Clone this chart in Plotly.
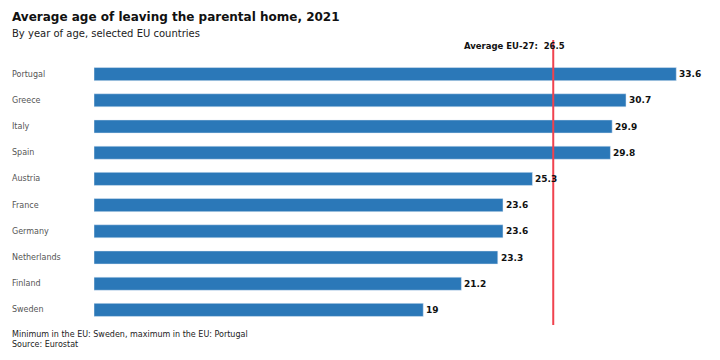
import plotly.graph_objects as go

countries = ["Portugal", "Greece", "Italy", "Spain", "Austria", "France",
             "Germany", "Netherlands", "Finland", "Sweden"]
ages = [33.6, 30.7, 29.9, 29.8, 25.3, 23.6, 23.6, 23.3, 21.2, 19]
eu_avg = 26.5

FONT = "DejaVu Sans"
OFF = 8  # page body margin offset

fig = go.Figure(go.Bar(
    x=ages, y=countries, orientation="h",
    marker=dict(color="#2b78b8"),
    width=0.5,
    hoverinfo="x+y",
))

W, H = 720, 360
L, R, T, B = 94 - OFF, 28, 61 - OFF, 37 + OFF
pw = W - L - R
ph = H - T - B

def px_x(p):
    return (p - OFF - L) / pw

def px_y(p):
    return (H - B - (p - OFF)) / ph

annotations = []
for c in countries:
    annotations.append(dict(
        x=px_x(10), xref="paper", y=c, yref="y", text=c, showarrow=False,
        xanchor="left", yanchor="middle",
        font=dict(family=FONT, size=8, color="#555")))

for c, v in zip(countries, ages):
    annotations.append(dict(
        x=v, xref="x", y=c, yref="y", text=f"<b>{v:g}</b>", showarrow=False,
        xanchor="left", yanchor="middle", xshift=1,
        font=dict(family=FONT, size=9, color="#111")))

annotations.append(dict(
    x=eu_avg, xref="x", y=px_y(46), yref="paper",
    text="<b>Average EU-27:  26.5</b>", showarrow=False,
    xanchor="right", xshift=14, yanchor="middle",
    font=dict(family=FONT, size=8.5, color="#111")))

annotations += [
    dict(x=px_x(10), xref="paper", y=px_y(17), yref="paper",
         text="<b>Average age of leaving the parental home, 2021</b>",
         showarrow=False, xanchor="left", yanchor="middle",
         font=dict(family=FONT, size=12, color="#111")),
    dict(x=px_x(10), xref="paper", y=px_y(33), yref="paper",
         text="By year of age, selected EU countries",
         showarrow=False, xanchor="left", yanchor="middle",
         font=dict(family=FONT, size=10, color="#222")),
    dict(x=px_x(10), xref="paper", y=px_y(334), yref="paper",
         text="Minimum in the EU: Sweden, maximum in the EU: Portugal",
         showarrow=False, xanchor="left", yanchor="middle",
         font=dict(family=FONT, size=8, color="#222")),
    dict(x=px_x(10), xref="paper", y=px_y(344), yref="paper",
         text="Source: Eurostat",
         showarrow=False, xanchor="left", yanchor="middle",
         font=dict(family=FONT, size=8, color="#222")),
]

fig.add_shape(type="line", x0=eu_avg, x1=eu_avg, xref="x",
              y0=px_y(325), y1=px_y(40), yref="paper",
              line=dict(color="#f0424e", width=2))

fig.update_layout(
    width=W, height=H,
    margin=dict(l=L, r=R, t=T, b=B),
    paper_bgcolor="white", plot_bgcolor="white",
    showlegend=False,
    xaxis=dict(range=[0, pw / 17.33], visible=False, fixedrange=True),
    yaxis=dict(categoryorder="array", categoryarray=countries[::-1],
               showticklabels=False, showgrid=False, zeroline=False,
               fixedrange=True),
    annotations=annotations,
    font=dict(family=FONT),
)

fig.write_html("out.html")
